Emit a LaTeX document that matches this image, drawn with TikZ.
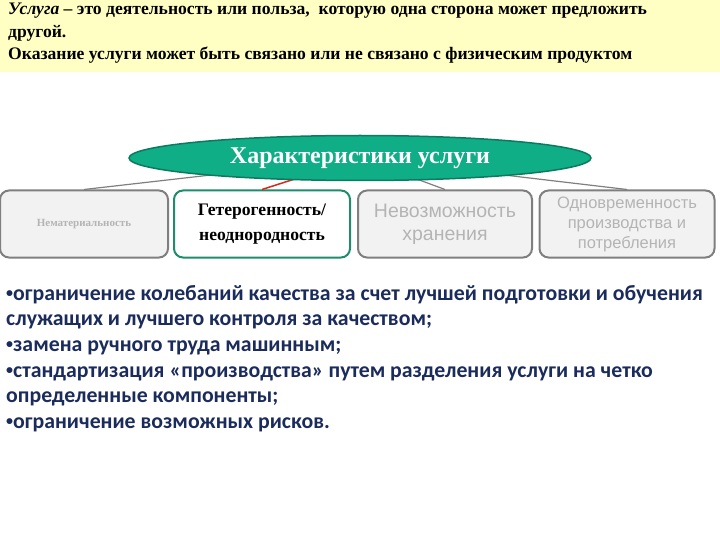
\documentclass[tikz,border=0pt]{standalone}
\usepackage{fontspec}
\setmainfont{Liberation Serif}
\newfontfamily\arialfont{Liberation Sans}
\newfontfamily\calibrifont{Carlito}
\usetikzlibrary{shapes.geometric}
\definecolor{headyellow}{HTML}{FFFFC4}
\definecolor{ovalgreen}{HTML}{0FAE86}
\definecolor{ovaledge}{HTML}{0B7A5E}
\definecolor{boxgreen}{HTML}{1F8C6C}
\definecolor{boxgray}{HTML}{7F7F7F}
\definecolor{boxfill}{HTML}{F2F2F2}
\definecolor{palegray}{HTML}{B4B4B4}
\definecolor{navytext}{HTML}{1B2C5C}
\definecolor{redline}{HTML}{D42A1E}
\newcommand{\dotmark}{\raisebox{3pt}{\fontsize{14}{14}\selectfont •}}
\begin{document}
\begin{tikzpicture}[x=1pt, y=-1pt,
    feature/.style ={rectangle, rounded corners=9pt, draw=boxgray, line width=2pt,
      fill=boxfill, minimum width=168pt, minimum height=67pt, align=center, text=palegray},
    link/.style ={draw=boxgray, line width=1.2pt}]
   \useasboundingbox (0,0) rectangle (720,540);
   \fill[headyellow] (0,0) rectangle (720,72);
   \node[anchor=north west, align=left, inner sep=0pt, font=\bfseries\fontsize{17.6}{22.5}\selectfont] (def) at (8,3)
     {\textit{Услуга} – это деятельность или польза,\ \ которую одна сторона может предложить\\
      другой.\\
      Оказание услуги может быть связано или не связано с физическим продуктом};

   \node[feature, font=\bfseries\fontsize{11}{13}\selectfont] (A) at (84,224) {Нематериальность};
   \node[feature, draw=boxgreen, fill=white, text=black, minimum width=176pt,
     font=\bfseries\fontsize{17.6}{25}\selectfont] (B) at (262,224)
     {Гетерогенность/\\ неоднородность};
   \node[feature, minimum width=174pt, font=\arialfont\fontsize{19.5}{23}\selectfont] (C) at (445,224)
     {Невозможность\\ хранения};
   \node[feature, minimum width=175pt, font=\arialfont\fontsize{16.5}{20}\selectfont] (D) at (627,224)
     {Одновременность\\ производства и\\ потребления};

   \coordinate (hub) at (360,158);
   \draw[link] (hub) to (A.north);
   \draw[link] (hub) to (C.north);
   \draw[link] (hub) to (D.north);
   \draw[draw=redline, line width=1.5pt] (hub) to (B.north);

   \node[ellipse, draw=ovaledge, line width=1.5pt, fill=ovalgreen, minimum width=462pt, minimum height=45pt,
     text=white, font=\bfseries\fontsize{24}{26}\selectfont] (title) at (hub) {Характеристики услуги};

   \node[anchor=north west, align=left, inner sep=0pt, text=navytext,
     font=\calibrifont\bfseries\fontsize{21.8}{25.6}\selectfont] (list) at (6,285)
     {\dotmark ограничение колебаний качества за счет лучшей подготовки и обучения\\
      служащих и лучшего контроля за качеством;\\
      \dotmark замена ручного труда машинным;\\
      \dotmark стандартизация «производства» путем разделения услуги на четко\\
      определенные компоненты;\\
      \dotmark ограничение возможных рисков.};
 \end{tikzpicture}
\end{document}
